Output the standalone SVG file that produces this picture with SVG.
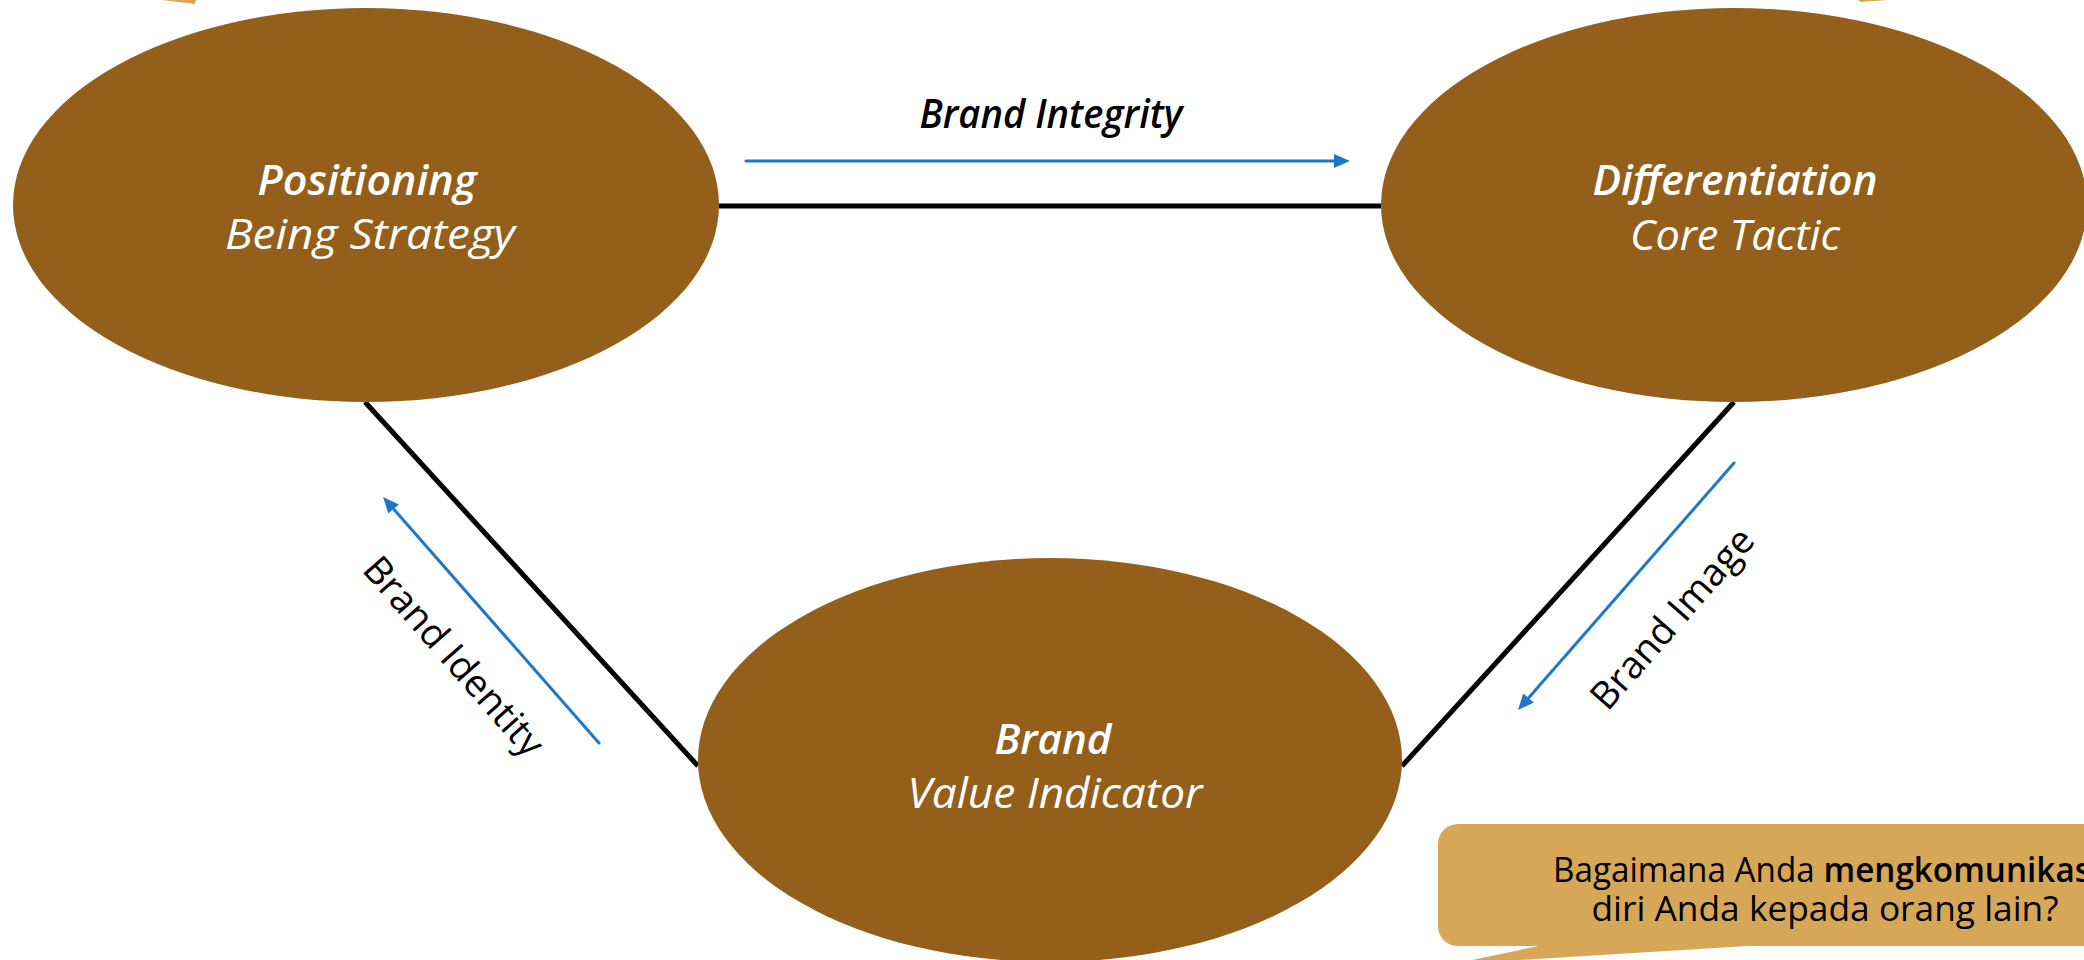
<svg xmlns="http://www.w3.org/2000/svg" width="2084" height="960" viewBox="0 0 2084 960">
  <style>
    .node { fill: #935F1A; }
    .t1 { font-family: "Open Sans", "Noto Sans", sans-serif; font-style: italic; font-weight: 600; font-size: 42px; fill: #FFFFFF; text-anchor: middle; }
    .t2 { font-family: "Open Sans", "Noto Sans", sans-serif; font-style: italic; font-weight: 400; font-size: 42px; fill: #FFFFFF; text-anchor: middle; }
    .edge { stroke: #000000; stroke-width: 5; fill: none; }
    .flow { stroke: #1F77C8; stroke-width: 3; fill: none; stroke-linecap: round; }
    .lbl { font-family: "Open Sans", "Noto Sans", sans-serif; font-size: 38px; font-weight: 400; fill: #000000; text-anchor: middle; }
    .lbl-it { font-family: "Open Sans", "Noto Sans", sans-serif; font-size: 39px; font-weight: 600; font-style: italic; fill: #000000; text-anchor: middle; }
    .call { fill: #D6A757; }
    .ct { font-family: "Open Sans", "Noto Sans", sans-serif; font-size: 35px; fill: #000000; }
  </style>
  <defs>
    <marker id="ah" markerUnits="userSpaceOnUse" markerWidth="18" markerHeight="16" viewBox="0 -8 17 16" refX="0" refY="0" orient="auto">
      <path d="M0,-7 L16,0 L0,7 Z" fill="#1F77C8"/>
    </marker>
  </defs>

  <!-- partial callout tails at top edge -->
  <polygon class="call" points="162,0 196,0 195,4"/>
  <polygon class="call" points="1858,0 1888,0 1861,2"/>

  <g id="connectors">
    <line class="edge" x1="719" y1="206" x2="1381" y2="206"/>
    <line class="edge" x1="365" y1="402" x2="698" y2="766"/>
    <line class="edge" x1="1734" y1="402" x2="1402" y2="766"/>
    <line class="flow" x1="746" y1="161" x2="1334" y2="161" marker-end="url(#ah)"/>
    <line class="flow" x1="599" y1="743" x2="393.6" y2="509" marker-end="url(#ah)"/>
    <line class="flow" x1="1734" y1="463" x2="1528.5" y2="698" marker-end="url(#ah)"/>
    <text class="lbl-it" x="1051" y="128" textLength="263" lengthAdjust="spacingAndGlyphs">Brand Integrity</text>
    <text class="lbl" transform="translate(444,665) rotate(48.7)" x="0" y="0">Brand Identity</text>
    <text class="lbl" transform="translate(1682,627) rotate(-48.8)" x="0" y="0">Brand Image</text>
  </g>

  <g id="node-positioning">
    <ellipse class="node" cx="366" cy="205" rx="353" ry="197"/>
    <text class="t1" x="367" y="195" textLength="219" lengthAdjust="spacingAndGlyphs">Positioning</text>
    <text class="t2" x="370" y="249" textLength="290" lengthAdjust="spacingAndGlyphs">Being Strategy</text>
  </g>

  <g id="node-differentiation">
    <ellipse class="node" cx="1734" cy="205" rx="353" ry="197"/>
    <text class="t1" x="1735" y="195" textLength="285" lengthAdjust="spacingAndGlyphs">Differentiation</text>
    <text class="t2" x="1735" y="250" textLength="210" lengthAdjust="spacingAndGlyphs">Core Tactic</text>
  </g>

  <g id="node-brand">
    <ellipse class="node" cx="1050" cy="760" rx="352" ry="202"/>
    <text class="t1" x="1053" y="754" textLength="117" lengthAdjust="spacingAndGlyphs">Brand</text>
    <text class="t2" x="1055" y="808" textLength="295" lengthAdjust="spacingAndGlyphs">Value Indicator</text>
  </g>

  <g id="callout">
    <polygon class="call" points="1548,944 1780,944 1453,964"/>
    <rect class="call" x="1438" y="824" width="700" height="122" rx="20" ry="20"/>
    <text class="ct" transform="translate(1553,882) scale(0.95,1)">Bagaimana Anda <tspan font-weight="600">mengkomunikasikan</tspan></text>
    <text class="ct" x="1825" y="921" text-anchor="middle" textLength="467" lengthAdjust="spacingAndGlyphs">diri Anda kepada orang lain?</text>
  </g>
</svg>
